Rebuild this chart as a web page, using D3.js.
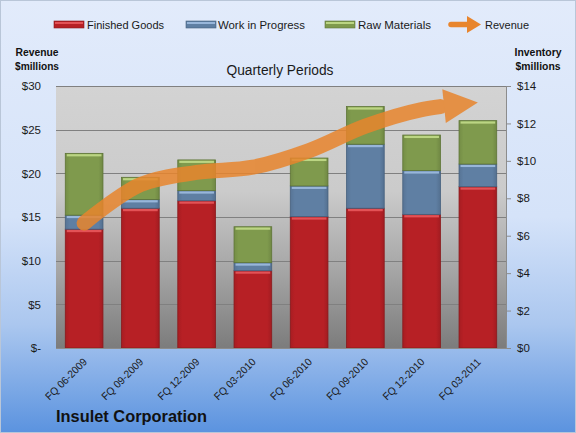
<!DOCTYPE html>
<html>
<head>
<meta charset="utf-8">
<script src="https://cdn.jsdelivr.net/npm/d3@7"></script>
<style>
  body { margin: 0; padding: 0; }
  svg { display: block; font-family: "Liberation Sans", Arial, sans-serif; }
</style>
</head>
<body>
<div id="chart"></div>
<script>
// Quarterly data (inventory on the right axis, revenue on the left)
const categories = ['FQ 06-2009', 'FQ 09-2009', 'FQ 12-2009', 'FQ 03-2010',
                    'FQ 06-2010', 'FQ 09-2010', 'FQ 12-2010', 'FQ 03-2011'];
const finishedGoods  = [6.35, 7.47, 7.87, 4.13, 7.02, 7.47, 7.14, 8.62];
const workInProgress = [0.75, 0.47, 0.54, 0.43, 1.64, 3.42, 2.34, 1.21];
const rawMaterials   = [3.30, 1.18, 1.64, 1.92, 1.49, 2.01, 1.90, 2.32];
const revenue        = [14.3, 18.7, 20.1, 20.7, 22.6, 25.4, 27.3, 28.1];

const leftTicks  = [0, 5, 10, 15, 20, 25, 30];
const rightTicks = [0, 2, 4, 6, 8, 10, 12, 14];

const width = 576, height = 433;
const plot = { left: 56, right: 506, top: 86, bottom: 348 };

const svg = d3.select('#chart').append('svg')
  .attr('width', width)
  .attr('height', height);

const defs = svg.append('defs');

// background gradient
const bg = defs.append('linearGradient').attr('id', 'bgGrad')
  .attr('x1', 0).attr('y1', 0).attr('x2', 0).attr('y2', 1);
[['0%', '#e2ebfb'], ['50%', '#d5e3f9'], ['75%', '#abc7ef'], ['100%', '#5b93df']]
  .forEach(([o, c]) => bg.append('stop').attr('offset', o).attr('stop-color', c));

// plot area gradient
const pg = defs.append('linearGradient').attr('id', 'plotGrad')
  .attr('x1', 0).attr('y1', 0).attr('x2', 0).attr('y2', 1);
[['0%', '#d3d3d3'], ['40%', '#cbcbcb'], ['70%', '#a6a6a6'], ['100%', '#7c7c7c']]
  .forEach(([o, c]) => pg.append('stop').attr('offset', o).attr('stop-color', c));

const series = [
  { name: 'Finished Goods', values: finishedGoods, color: '#b72025', light: '#e8585c', edge: '#8a1a1c' },
  { name: 'Work in Progress', values: workInProgress, color: '#5f7fa3', light: '#9fbde0', edge: '#45607e' },
  { name: 'Raw Materials', values: rawMaterials, color: '#7f9a4d', light: '#c2dc8a', edge: '#5e7536' }
];

// horizontal shading for bars
series.forEach((s, i) => {
  const g = defs.append('linearGradient').attr('id', 'barGrad' + i)
    .attr('x1', 0).attr('y1', 0).attr('x2', 1).attr('y2', 0);
  g.append('stop').attr('offset', '0%').attr('stop-color', d3.color(s.color).darker(0.25));
  g.append('stop').attr('offset', '12%').attr('stop-color', s.color);
  g.append('stop').attr('offset', '88%').attr('stop-color', s.color);
  g.append('stop').attr('offset', '100%').attr('stop-color', d3.color(s.color).darker(0.35));
});

svg.append('rect')
  .attr('x', 0.5).attr('y', 0.5)
  .attr('width', width - 1).attr('height', height - 1)
  .attr('fill', 'url(#bgGrad)')
  .attr('stroke', '#b9c6d8');

// scales
const x = d3.scaleBand().domain(categories)
  .range([plot.left, plot.right]).paddingInner(0.33).paddingOuter(0.165);
const yLeft = d3.scaleLinear().domain([0, 30]).range([plot.bottom, plot.top]);
const yRight = d3.scaleLinear().domain([0, 14]).range([plot.bottom, plot.top]);

svg.append('rect')
  .attr('x', plot.left).attr('y', plot.top)
  .attr('width', plot.right - plot.left).attr('height', plot.bottom - plot.top)
  .attr('fill', 'url(#plotGrad)');

// gridlines (left axis)
svg.append('g').selectAll('line')
  .data(leftTicks.slice(1))
  .join('line')
  .attr('x1', plot.left).attr('x2', plot.right)
  .attr('y1', d => Math.round(yLeft(d)) + 0.5)
  .attr('y2', d => Math.round(yLeft(d)) + 0.5)
  .attr('stroke', '#808080')
  .attr('stroke-width', 1);

// left axis
const leftAxis = svg.append('g')
  .attr('transform', `translate(${plot.left},0)`)
  .call(d3.axisLeft(yLeft).tickValues(leftTicks).tickSize(0).tickPadding(15)
    .tickFormat(d => d === 0 ? '$-' : '$' + d));
leftAxis.select('.domain').remove();
leftAxis.selectAll('text').style('font-size', '11.5px').attr('fill', '#1a1a1a');

// right axis
const rightAxis = svg.append('g')
  .attr('transform', `translate(${plot.right},0)`)
  .call(d3.axisRight(yRight).tickValues(rightTicks).tickSize(5).tickPadding(6)
    .tickFormat(d => '$' + d));
rightAxis.select('.domain').attr('stroke', '#8c8c8c');
rightAxis.selectAll('line').attr('stroke', '#8c8c8c');
rightAxis.selectAll('text').style('font-size', '11.5px').attr('fill', '#1a1a1a');

// stacked bars
const stackData = categories.map((c, i) => {
  const row = { category: c };
  series.forEach(s => { row[s.name] = s.values[i]; });
  return row;
});
const stack = d3.stack().keys(series.map(s => s.name))(stackData);

const bars = svg.append('g');
stack.forEach((layer, li) => {
  const s = series[li];
  const g = bars.append('g');
  layer.forEach(d => {
    const bx = x(d.data.category);
    const y0 = yRight(d[0]);
    const y1 = yRight(d[1]);
    g.append('rect')
      .attr('x', bx).attr('y', y1)
      .attr('width', x.bandwidth()).attr('height', y0 - y1)
      .attr('fill', `url(#barGrad${li})`)
      .attr('stroke', s.edge)
      .attr('stroke-width', 0.8);
    // bevel highlight at the top of each segment
    g.append('rect')
      .attr('x', bx + 1.5).attr('y', y1 + 0.8)
      .attr('width', x.bandwidth() - 3).attr('height', 2.2)
      .attr('fill', s.light)
      .attr('opacity', 0.9);
  });
});

// bottom axis line
svg.append('line')
  .attr('x1', plot.left).attr('x2', plot.right)
  .attr('y1', plot.bottom + 0.5).attr('y2', plot.bottom + 0.5)
  .attr('stroke', '#8c8c8c');

// category labels
svg.append('g').selectAll('text')
  .data(categories)
  .join('text')
  .attr('transform', d => `translate(${x(d) + x.bandwidth() / 2 + 1},${plot.bottom + 12}) rotate(-45)`)
  .attr('text-anchor', 'end')
  .attr('dy', '0.35em')
  .attr('textLength', 54)
  .attr('lengthAdjust', 'spacingAndGlyphs')
  .style('font-size', '10.5px')
  .attr('fill', '#1a1a1a')
  .text(d => d);

// revenue line with arrow head
const revColor = '#e8852d';
const revG = svg.append('g').attr('opacity', 0.85);
const linePts = revenue.map((v, i) => [x(categories[i]) + x.bandwidth() / 2, yLeft(v)]);
const lineGen = d3.line().curve(d3.curveCatmullRom.alpha(0.5));
const revPath = revG.append('path')
  .attr('d', lineGen(linePts))
  .attr('fill', 'none')
  .attr('stroke', revColor)
  .attr('stroke-width', 15)
  .attr('stroke-linecap', 'round');
const node = revPath.node();
const total = node.getTotalLength();
const headLen = 34;
revPath.attr('stroke-dasharray', `${total - headLen - 4} ${total}`);
const tip = node.getPointAtLength(total);
const base = node.getPointAtLength(total - headLen);
const ang = Math.atan2(tip.y - base.y, tip.x - base.x);
const hw = 17;
const nx = -Math.sin(ang), ny = Math.cos(ang);
revG.append('path')
  .attr('d', `M${tip.x},${tip.y} L${base.x + nx * hw},${base.y + ny * hw} L${base.x - nx * hw},${base.y - ny * hw} Z`)
  .attr('fill', revColor);

// titles
svg.append('text')
  .attr('x', 280).attr('y', 75)
  .attr('text-anchor', 'middle')
  .attr('textLength', 107)
  .attr('lengthAdjust', 'spacingAndGlyphs')
  .style('font-size', '14px')
  .attr('fill', '#1a1a1a')
  .text('Quarterly Periods');

function axisTitle(cx, lines) {
  const t = svg.append('text')
    .attr('text-anchor', 'middle')
    .style('font-size', '11.5px')
    .style('font-weight', 'bold')
    .attr('fill', '#111');
  lines.forEach((l, i) => {
    t.append('tspan')
      .attr('x', cx).attr('y', 56 + i * 14)
      .attr('textLength', l.w)
      .attr('lengthAdjust', 'spacingAndGlyphs')
      .text(l.text);
  });
}
axisTitle(37, [{ text: 'Revenue', w: 43 }, { text: '$millions', w: 44 }]);
axisTitle(538, [{ text: 'Inventory', w: 47 }, { text: '$millions', w: 45 }]);

svg.append('text')
  .attr('x', 56).attr('y', 422)
  .attr('textLength', 151)
  .attr('lengthAdjust', 'spacingAndGlyphs')
  .style('font-size', '16.5px')
  .style('font-weight', 'bold')
  .attr('fill', '#111')
  .text('Insulet Corporation');

// legend
const legendItems = [
  { name: 'Finished Goods', x: 54, tx: 87, w: 77, type: 'rect', s: series[0] },
  { name: 'Work in Progress', x: 186, tx: 218, w: 87, type: 'rect', s: series[1] },
  { name: 'Raw Materials', x: 325, tx: 358, w: 73, type: 'rect', s: series[2] },
  { name: 'Revenue', x: 449, tx: 485, w: 44, type: 'arrow' }
];
const legend = svg.append('g');
legendItems.forEach(item => {
  const g = legend.append('g').attr('transform', `translate(${item.x},0)`);
  if (item.type === 'rect') {
    g.append('rect')
      .attr('x', 0).attr('y', 21).attr('width', 30).attr('height', 7)
      .attr('fill', item.s.color).attr('stroke', item.s.edge).attr('stroke-width', 0.6);
    g.append('rect')
      .attr('x', 1).attr('y', 22).attr('width', 28).attr('height', 2)
      .attr('fill', item.s.light).attr('opacity', 0.9);
  } else {
    g.append('line')
      .attr('x1', 2).attr('x2', 20).attr('y1', 24.5).attr('y2', 24.5)
      .attr('stroke', revColor).attr('stroke-width', 5.5).attr('stroke-linecap', 'round');
    g.append('path')
      .attr('d', 'M18,16 L32,24.5 L18,33 Z')
      .attr('fill', revColor);
  }
  g.append('text')
    .attr('x', item.tx - item.x).attr('y', 28.5)
    .attr('textLength', item.w)
    .attr('lengthAdjust', 'spacingAndGlyphs')
    .style('font-size', '11.5px')
    .attr('fill', '#1a1a1a')
    .text(item.name);
});
</script>
</body>
</html>
